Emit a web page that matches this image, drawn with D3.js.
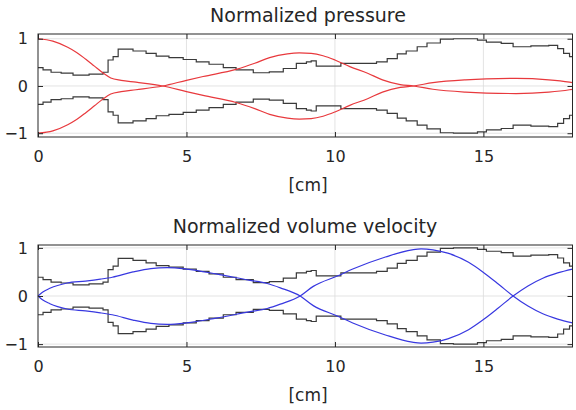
<!DOCTYPE html>
<html>
<head>
<meta charset="utf-8">
<script src="https://cdn.jsdelivr.net/npm/d3@7"></script>
<style>
  html, body { margin: 0; padding: 0; background: #fff; }
  svg { display: block; }
  text { font-family: "DejaVu Sans", sans-serif; fill: #262626; }
</style>
</head>
<body>
<svg id="chart" width="576" height="410"></svg>
<script>
// ---- data ----
// tube section start positions [cm] and normalized section size
const sectionX = [0, 0.17, 0.44, 0.78, 1.18, 1.72, 2.19, 2.36, 2.53, 2.70, 3.20, 3.64, 3.98, 4.41, 4.89, 5.33, 5.76, 6.24, 6.67, 7.25, 7.79, 8.26, 8.70, 9.04, 9.20, 9.37, 10.2, 11.4, 11.76, 12.1, 12.4, 12.77, 13.1, 13.55, 13.99, 14.8, 15.1, 15.6, 16.0, 16.6, 17.2, 17.5, 17.7, 17.9];
const sectionValue = [0.39, 0.34, 0.29, 0.27, 0.23, 0.25, 0.29, 0.55, 0.62, 0.78, 0.74, 0.69, 0.63, 0.60, 0.56, 0.51, 0.46, 0.39, 0.34, 0.28, 0.30, 0.37, 0.48, 0.51, 0.53, 0.42, 0.48, 0.51, 0.58, 0.68, 0.74, 0.83, 0.91, 0.99, 1.0, 0.97, 0.93, 0.90, 0.83, 0.85, 0.86, 0.79, 0.69, 0.62];
const tubeEnd = 18.0;

const pressX = [0, 0.5, 1.0, 1.3, 1.6, 1.9, 2.2, 2.45, 2.8, 3.3, 4.2, 5.0, 5.56, 6.67, 7.3, 7.8, 8.4, 8.8, 9.2, 9.6, 10.0, 10.5, 11.1, 11.6, 12.2, 12.65, 13.3, 14.4, 15.1, 16.1, 17.2, 17.9, 18.0];
const pressY = [1.0, 0.95, 0.82, 0.71, 0.57, 0.42, 0.27, 0.17, 0.12, 0.08, 0.0, -0.12, -0.20, -0.35, -0.48, -0.60, -0.68, -0.70, -0.69, -0.64, -0.55, -0.41, -0.27, -0.13, -0.03, 0.0, 0.07, 0.13, 0.15, 0.16, 0.13, 0.08, 0.07];

const velX = [0, 0.15, 0.4, 0.98, 1.6, 2.1, 2.5, 3.2, 3.8, 4.35, 5.0, 6.0, 7.1, 7.72, 8.16, 8.83, 9.27, 10.1, 10.6, 11.7, 12.6, 12.9, 13.3, 13.8, 14.5, 15.0, 15.5, 16.0, 16.5, 17.0, 17.5, 18.0];
const velY = [0, 0.08, 0.16, 0.27, 0.31, 0.35, 0.39, 0.50, 0.57, 0.59, 0.56, 0.46, 0.33, 0.26, 0.17, 0, -0.20, -0.42, -0.56, -0.81, -0.96, -0.98, -0.96, -0.89, -0.70, -0.49, -0.25, 0, 0.21, 0.37, 0.48, 0.56];

const xTicks = [0, 5, 10, 15];
const yTicks = [-1, 0, 1];
const titles = ["Normalized pressure", "Normalized volume velocity"];
const xLabel = "[cm]";

// ---- drawing ----
const svg = d3.select("#chart");
const panels = [
  { top: 34, bottom: 137, yDom: [-1.08, 1.1], title: titles[0], tx: 308, ty: 22, lx: 308, ly: 191, xs: pressX, ys: pressY, color: "#e8393d" },
  { top: 245, bottom: 347, yDom: [-1.06, 1.06], title: titles[1], tx: 305, ty: 233, lx: 308, ly: 401, xs: velX, ys: velY, color: "#3838e0" }
];
const left = 38, right = 572.5;

const stepPts = [];
sectionX.forEach((x0, i) => {
  const x1 = i + 1 < sectionX.length ? sectionX[i + 1] : tubeEnd;
  stepPts.push([x0, sectionValue[i]]);
  stepPts.push([x1, sectionValue[i]]);
});

panels.forEach(p => {
  const x = d3.scaleLinear().domain([0, tubeEnd]).range([left, right]);
  const y = d3.scaleLinear().domain(p.yDom).range([p.bottom, p.top]);
  const g = svg.append("g");

  // grid
  g.append("g").selectAll("line").data(xTicks.filter(t => t > 0)).join("line")
    .attr("x1", d => x(d)).attr("x2", d => x(d)).attr("y1", p.top).attr("y2", p.bottom)
    .attr("stroke", "#dcdcdc").attr("stroke-width", 0.8);
  g.append("g").selectAll("line").data(yTicks).join("line")
    .attr("y1", d => y(d)).attr("y2", d => y(d)).attr("x1", left).attr("x2", right)
    .attr("stroke", "#dcdcdc").attr("stroke-width", 0.8);

  // staircase (upper and mirrored)
  const line = d3.line().x(d => x(d[0])).y(d => y(d[1]));
  g.append("path").attr("d", line(stepPts)).attr("fill", "none").attr("stroke", "#3a3a3a").attr("stroke-width", 1.2);
  g.append("path").attr("d", line(stepPts.map(d => [d[0], -d[1]]))).attr("fill", "none").attr("stroke", "#3a3a3a").attr("stroke-width", 1.2);

  // curve and mirrored curve
  const cl = d3.line().x(d => x(d[0])).y(d => y(d[1])).curve(d3.curveMonotoneX);
  const pts = p.xs.map((v, i) => [v, p.ys[i]]);
  g.append("path").attr("d", cl(pts)).attr("fill", "none").attr("stroke", p.color).attr("stroke-width", 1.2);
  g.append("path").attr("d", cl(pts.map(d => [d[0], -d[1]]))).attr("fill", "none").attr("stroke", p.color).attr("stroke-width", 1.2);

  // axes box with inward ticks
  const xb = d3.axisBottom(x).tickValues(xTicks).tickSizeInner(-5).tickSizeOuter(0).tickPadding(14);
  const xt = d3.axisTop(x).tickValues(xTicks).tickSizeInner(-5).tickSizeOuter(0).tickFormat("");
  const yl = d3.axisLeft(y).tickValues(yTicks).tickSizeInner(-5).tickSizeOuter(0).tickPadding(10).tickFormat(d => d < 0 ? "\u2212" + Math.abs(d) : d);
  const yr = d3.axisRight(y).tickValues(yTicks).tickSizeInner(-5).tickSizeOuter(0).tickFormat("");
  [[xb, `translate(0,${p.bottom})`], [xt, `translate(0,${p.top})`], [yl, `translate(${left},0)`], [yr, `translate(${right},0)`]].forEach(([ax, tr]) => {
    const a = g.append("g").attr("transform", tr).call(ax);
    a.select(".domain").remove();
    a.selectAll("line").attr("stroke", "#262626");
    a.selectAll("text").attr("font-size", 16).attr("font-family", "DejaVu Sans").attr("fill", "#262626");
  });
  g.append("rect").attr("x", left).attr("y", p.top).attr("width", right - left).attr("height", p.bottom - p.top)
    .attr("fill", "none").attr("stroke", "#262626").attr("stroke-width", 1);

  g.append("text").attr("x", p.tx).attr("y", p.ty).attr("text-anchor", "middle").attr("font-size", 19).text(p.title);
  g.append("text").attr("x", p.lx).attr("y", p.ly).attr("text-anchor", "middle").attr("font-size", 17).text(xLabel);
});
</script>
</body>
</html>
